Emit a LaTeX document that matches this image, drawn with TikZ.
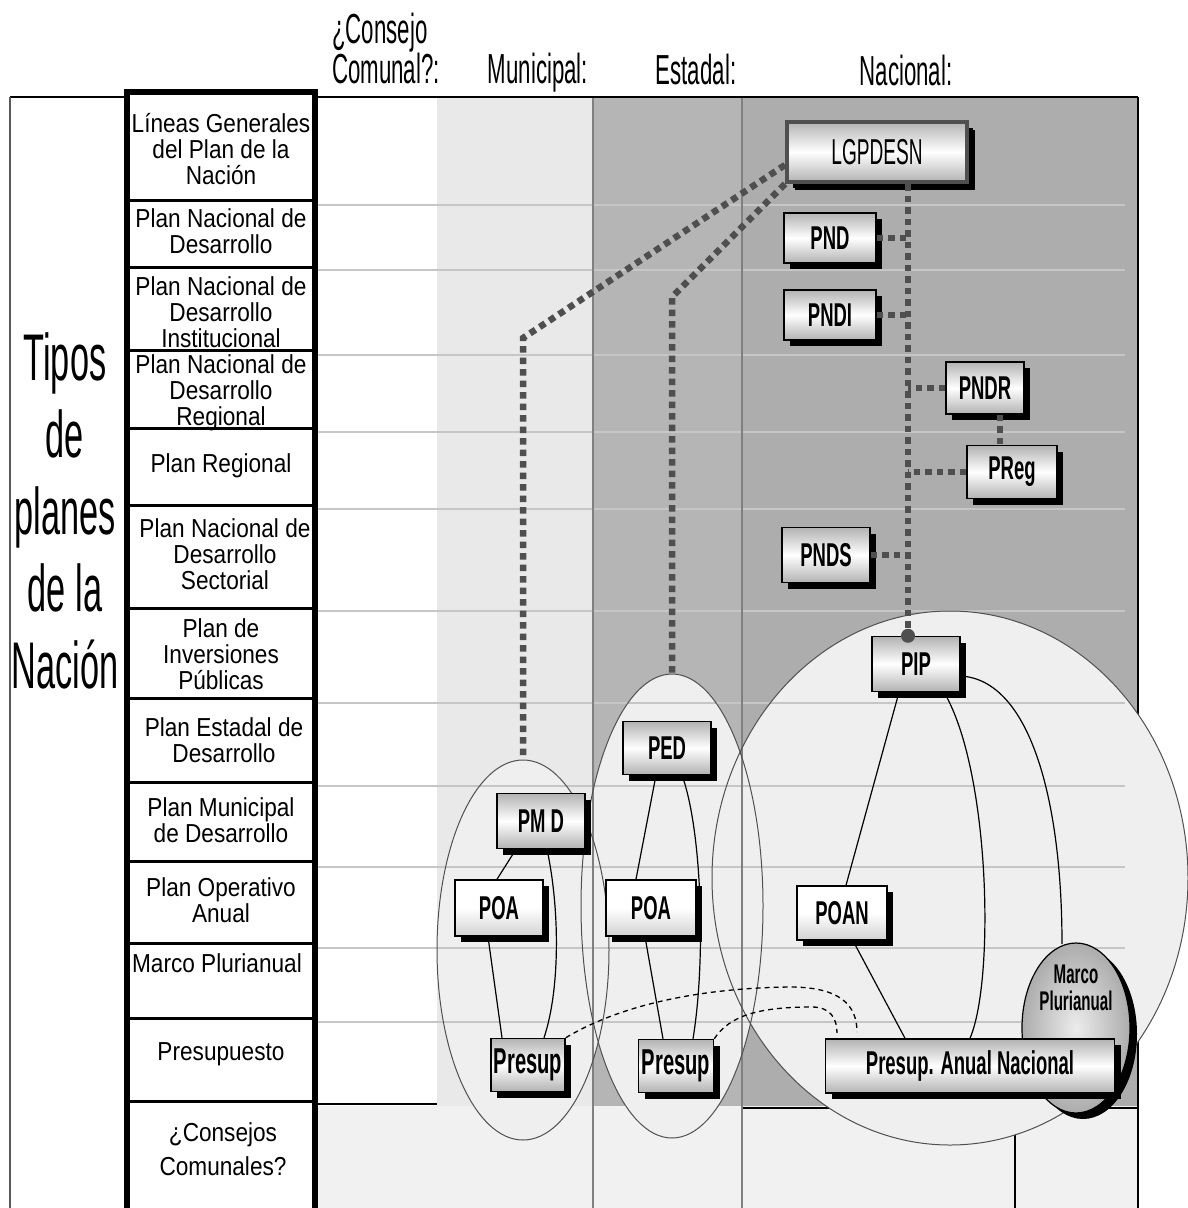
\documentclass[tikz,border=0pt]{standalone}
\usepackage{fontspec}
\usetikzlibrary{shapes.geometric,shadows,calc}
\setmainfont{Liberation Sans}
\newfontfamily\tabfont{Liberation Sans}[FakeStretch=0.87]
\newfontfamily\thinfont{Liberation Sans}[FakeStretch=0.53]
\newfontfamily\bigfont{Liberation Sans}[FakeStretch=0.52]
\newfontfamily\cndfont{Liberation Sans}[FakeStretch=0.56]
\definecolor{munC}{HTML}{E9E9E9}
\definecolor{estC}{HTML}{B5B5B5}
\definecolor{nacC}{HTML}{ADADAD}
\definecolor{ellC}{HTML}{EFEFEF}
\definecolor{botC}{HTML}{F1F1F1}
\definecolor{gridC}{HTML}{C6C6C6}
\definecolor{dotC}{HTML}{4F4F4F}
\definecolor{ellLine}{HTML}{505050}
\definecolor{vlineC}{HTML}{808080}
\tikzset{
  rowtxt/.style={font=\tabfont\fontsize{26}{26}\selectfont, align=center, inner sep=0, anchor=north},
  hdr/.style={font=\thinfont\fontsize{42}{42}\selectfont, inner sep=0, anchor=base},
  plan/.style={draw=black, line width=1.5pt, top color=gray!60, bottom color=gray!60, middle color=white,
    drop shadow={shadow xshift=6pt, shadow yshift=-6pt, fill=black, opacity=1},
    font=\cndfont\bfseries\fontsize{33}{33}\selectfont, inner sep=0, minimum height=52pt},
  planw/.style={plan, top color=white, bottom color=gray!35, middle color=white},
  dotl/.style={draw=dotC, line width=6.5pt, dash pattern=on 6.5pt off 5pt},
  link/.style={draw=black, line width=1.2pt},
  dlink/.style={draw=black, line width=1.3pt, dash pattern=on 5pt off 4pt},
  ell/.style={draw=ellLine, line width=1pt},
  grid/.style={draw=gridC, line width=1.6pt},
  vline/.style={draw=vlineC, line width=1.2pt}
}
\begin{document}
\begin{tikzpicture}[x=1pt,y=-1pt]
\useasboundingbox (0,0) rectangle (1187,1208);
\fill[white] (0,0) rectangle (1187,1208);
% regions
\fill[munC] (437,97) rectangle (593,1106);
\fill[estC] (593,97) rectangle (742,1108);
\fill[nacC] (742,97) rectangle (1138,1108);
\fill[botC] (317,1106) rectangle (1138,1208);
\draw[black, line width=1.5pt] (317,1104) -- (437,1104);
\draw[black, line width=1.5pt] (742,1108) -- (1138,1108);
\draw[black, line width=1.5pt] (1138,97) -- (1138,1208);
\draw[black, line width=1.2pt] (1015,1120) -- (1015,1208);
% ellipse fills
\fill[ellC] (950,878) ellipse [x radius=238, y radius=267];
\fill[ellC] (523,950) ellipse [x radius=86, y radius=190];
\fill[ellC] (672,906) ellipse [x radius=91, y radius=232];
\coordinate (munTop) at (523,760);
\coordinate (estTop) at (672,674);
% grid lines
\foreach \yy in {205,270,355,432,509,611,703,786,867,948,1022}
  \draw[grid] (317,\yy) -- (1125,\yy);
\draw[vline] (593,97) -- (593,1208);
\draw[vline] (742,97) -- (742,1208);
% ellipse outlines
\draw[ell] (950,878) ellipse [x radius=238, y radius=267];
\draw[ell] (523,950) ellipse [x radius=86, y radius=190];
\draw[ell] (672,906) ellipse [x radius=91, y radius=232];
% frame
\draw[black, line width=1.5pt] (10,97) -- (1138,97);
\draw[vlineC!70!black, line width=2pt] (10,97) -- (10,1208);
% table
\fill[white] (127,92) rectangle (315,1212);
\node[rowtxt] (r1) at (221,113) {Líneas Generales\\del Plan de la\\Nación};
\node[rowtxt] (r2) at (221,208) {Plan Nacional de\\Desarrollo};
\node[rowtxt] (r3) at (221,276) {Plan Nacional de\\Desarrollo\\Institucional};
\node[rowtxt] (r4) at (221,354) {Plan Nacional de\\Desarrollo\\Regional};
\node[rowtxt] (r5) at (221,453) {Plan Regional};
\node[rowtxt] (r6) at (225,518) {Plan Nacional de\\Desarrollo\\Sectorial};
\node[rowtxt] (r7) at (221,618) {Plan de\\Inversiones\\Públicas};
\node[rowtxt] (r8) at (224,717) {Plan Estadal de\\Desarrollo};
\node[rowtxt] (r9) at (221,797) {Plan Municipal\\de Desarrollo};
\node[rowtxt] (r10) at (221,877) {Plan Operativo\\Anual};
\node[rowtxt] (r11) at (217,953) {Marco Plurianual};
\node[rowtxt] (r12) at (221,1042) {Presupuesto};
\node[rowtxt, font=\tabfont\fontsize{26}{34}\selectfont] (r13) at (223,1122) {¿Consejos\\Comunales?};
\foreach \yy in {200,267,350,428,505,608,698,782,861,943,1018,1101}
  \draw[black, line width=3pt] (127,\yy) -- (315,\yy);
\draw[black, line width=5.5pt] (127,1215) -- (127,92) -- (315,92) -- (315,1215);
% left title
\node[font=\bigfont\fontsize{66}{77}\selectfont, align=center, inner sep=0, anchor=north] (title) at (65,332) {Tipos\\de\\planes\\de la\\Nación};
% headers
\node[font=\thinfont\fontsize{42}{35}\selectfont, align=left, inner sep=0, anchor=north west] (hcc) at (332,13) {¿Consejo\\Comunal?:};
\node[hdr] (hmun) at (538,83) {Municipal:};
\node[hdr] (hest) at (696,84) {Estadal:};
\node[hdr] (hnac) at (906,85) {Nacional:};
% national nodes
\node[plan, draw=dotC, line width=4pt, minimum width=180pt, minimum height=60pt,
  drop shadow={shadow xshift=8pt, shadow yshift=-8pt, fill=black, opacity=1},
  font=\thinfont\fontsize{36}{36}\selectfont] (lg) at (877,152) {LGPDESN};
\node[plan, minimum width=92pt, minimum height=50pt] (pnd) at (830,238) {PND};
\node[plan, minimum width=92pt, minimum height=50pt] (pndi) at (830,315) {PNDI};
\node[plan, minimum width=78pt] (pndr) at (985,388) {PNDR};
\node[plan, minimum width=90pt, minimum height=53pt] (preg) at (1012,472) {PReg};
\node[plan, minimum width=88pt, minimum height=55pt] (pnds) at (826,555) {PNDS};
\node[plan, minimum width=88pt, minimum height=55pt] (pip) at (916,664) {PIP};
\node[planw, minimum width=90pt, minimum height=54pt] (poan) at (842,913) {POAN};
% Marco plurianual
\fill[black] (1083,1034) ellipse [x radius=54, y radius=85];
\shade[inner color=gray!15, outer color=gray!65, draw=black, line width=1.2pt] (1076,1028) ellipse [x radius=54, y radius=85];
\node[font=\cndfont\bfseries\fontsize{27}{27}\selectfont, align=center, inner sep=0] (marco) at (1076,988) {Marco\\Plurianual};
\coordinate (marcoTop) at (1062,944);
\node[plan, minimum width=289pt, minimum height=54pt] (pan) at (970,1066) {Presup. Anual Nacional};
% state and municipal nodes
\node[plan, minimum width=88pt, minimum height=53pt] (ped) at (667,748) {PED};
\node[plan, minimum width=88pt, minimum height=55pt] (pmd) at (541,821) {PM D};
\node[planw, minimum width=88pt, minimum height=56pt] (poam) at (499,908) {POA};
\node[planw, minimum width=90pt, minimum height=56pt] (poae) at (651,908) {POA};
\node[plan, minimum width=74pt, minimum height=53pt, font=\cndfont\bfseries\fontsize{36}{36}\selectfont] (presm) at (528,1065) {Presup};
\node[plan, minimum width=75pt, minimum height=53pt, font=\cndfont\bfseries\fontsize{36}{36}\selectfont] (prese) at (676,1066) {Presup};
% dotted connectors
\coordinate (bendM) at (523,338);
\coordinate (bendE) at (672,297);
\coordinate (vx) at (908,0);
\draw[dotl] ([yshift=-13pt]lg.west) -- (bendM) -- (munTop);
\draw[dotl] (lg.south west) -- (bendE) -- (estTop);
\draw[dotl] (lg.south -| vx) -- (pip.north -| vx);
\fill[dotC] (pip.north -| vx) circle (7);
\draw[dotl] (pnd.east) -- (pnd.east -| vx);
\draw[dotl] (pndi.east) -- (pndi.east -| vx);
\draw[dotl] (pndr.west) -- (pndr.west -| vx);
\draw[dotl] (preg.west) -- (preg.west -| vx);
\draw[dotl] (pnds.east) -- (pnds.east -| vx);
\draw[dotl] ([xshift=15pt]pndr.south) -- ([xshift=15pt]pndr.south |- preg.north);
% solid links
\draw[link] ([xshift=-25pt]pmd.south) -- ([xshift=-2pt]poam.north);
\draw[link] ([xshift=6pt]pmd.south) .. controls (560,910) and (560,990) .. ([xshift=16pt]presm.north);
\draw[link] ([xshift=-11pt]poam.south) -- ([xshift=-26pt]presm.north);
\draw[link] ([xshift=-11pt]ped.south) -- ([xshift=-15pt]poae.north);
\draw[link] ([xshift=15pt]ped.south) .. controls (702,830) and (706,960) .. ([xshift=17pt]prese.north);
\draw[link] ([xshift=-6pt]poae.south) -- ([xshift=-13pt]prese.north);
\draw[link] ([xshift=-17pt]pip.south) -- ([xshift=4pt]poan.north);
\draw[link] ([xshift=28pt]pip.south) .. controls (990,770) and (995,980) .. (pan.north);
\draw[link] ([yshift=-12pt]pip.east) .. controls (1030,680) and (1062,800) .. (marcoTop);
\draw[link] ([xshift=11pt]poan.south) -- ([xshift=-65pt]pan.north);
% dashed links
\coordinate (d1) at (857,1032);
\coordinate (d2) at (837,1033);
\draw[dlink] (presm.north east) .. controls (620,1005) and (700,988) .. (790,987) .. controls (840,987) and (857,1005) .. (d1);
\draw[dlink] (prese.north east) .. controls (730,1015) and (760,1007) .. (812,1007) .. controls (830,1007) and (837,1018) .. (d2);
\end{tikzpicture}
\end{document}
